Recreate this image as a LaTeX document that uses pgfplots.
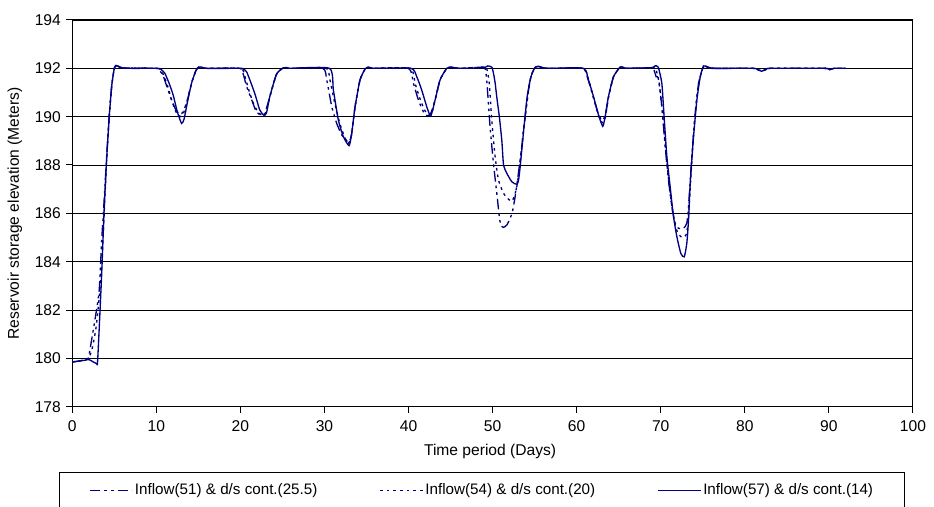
\documentclass[border=0pt]{standalone}
\usepackage{pgfplots}
\pgfplotsset{compat=1.18}
\usepackage{pgfplotstable}
\usepackage{fontspec}
\setmainfont{Liberation Sans}

\definecolor{navy}{RGB}{0,0,128}

% Inflow(51) & d/s cont.(25.5)
\pgfplotstableread{
day elev
0 179.85
1 179.9
1.5 179.95
1.9 180.0
2.1 180.35
2.7 181.6
3.2 182.8
3.5 184.9
3.7 186.0
4.1 188.4
4.4 190.1
4.7 191.3
5.0 192.0
5.2 192.1
5.5 192.08
6 192.02
10 192
10.3 191.95
10.8 191.7
11.3 191.2
11.8 190.7
12.3 190.3
12.8 190.1
13.2 190.2
13.7 190.7
14.2 191.4
14.7 191.9
15.0 192.03
15.5 192.03
16 192
19.9 192
20.3 191.8
20.75 191.24
21.35 190.69
21.9 190.2
22.5 190.06
22.9 190.12
23.5 190.83
24.3 191.76
25.1 192.02
25.6 192.02
26 192
29.8 192
30.27 191.52
30.87 190.41
31.46 189.72
32.06 189.24
32.65 189.0
32.95 188.95
33.24 189.3
33.64 190.41
34.23 191.52
34.83 191.97
35.2 192.04
36 192
40.0 192
40.58 191.38
41.17 190.69
41.77 190.2
42.17 190.05
42.6 190.1
43.16 190.69
43.75 191.52
44.55 192.0
45.14 192.04
46 192
48.8 192.05
49.1 192.0
49.3 191.52
49.7 189.58
50.1 188.07
50.5 186.83
50.8 185.86
50.97 185.52
51.28 185.42
51.7 185.52
52.08 185.79
52.36 186.07
52.68 186.69
53.07 187.66
53.47 188.76
53.87 190.0
54.46 191.52
54.97 192.0
55.4 192.08
56 192.02
57 192
60.7 192
61.3 191.6
61.9 190.9
62.5 190.2
63.0 189.85
63.4 190.05
63.8 190.83
64.38 191.65
65.17 192.05
65.6 192.03
66 192
68.8 192.02
69.13 192.0
69.46 191.65
69.73 191.6
70.13 190.41
70.53 188.76
70.92 187.38
71.32 186.28
71.72 185.59
72.11 185.38
72.71 185.38
73.1 185.59
73.3 186.28
73.7 188.34
74.1 190.14
74.5 191.38
75.0 192.0
75.3 192.1
75.8 192.03
76.5 192
81 192
81.5 191.95
82.0 191.9
82.5 191.95
83 192
89.5 192
90.1 191.95
90.6 192
92 192
}\seriesA

% Inflow(54) & d/s cont.(20)
\pgfplotstableread{
day elev
0 179.85
1 179.9
1.5 179.95
1.9 180.0
2.3 180.3
2.8 181.2
3.2 182.5
3.5 184.0
3.8 186.0
4.1 188.3
4.4 190.0
4.7 191.3
5.0 192.0
5.2 192.1
5.5 192.08
6 192.02
10 192
10.4 191.96
10.9 191.7
11.4 191.2
11.9 190.6
12.4 190.15
12.9 190.0
13.2 190.1
13.7 190.7
14.2 191.4
14.7 191.9
15.0 192.03
15.5 192.03
16 192
20 192
20.5 191.7
21.0 191.1
21.6 190.5
22.2 190.15
22.7 190.05
23.0 190.15
23.5 190.83
24.3 191.76
25.1 192.02
25.6 192.02
26 192
30.2 192
30.6 191.6
31.2 190.6
31.8 189.75
32.4 189.15
32.85 188.9
33.2 189.2
33.64 190.41
34.23 191.52
34.83 191.97
35.2 192.04
36 192
40.2 192
40.8 191.35
41.4 190.7
41.95 190.25
42.4 190.06
42.75 190.12
43.16 190.69
43.75 191.52
44.55 192.0
45.14 192.04
46 192
49.0 192.05
49.3 192.0
49.6 191.4
49.9 189.86
50.3 188.34
50.7 187.38
51.3 186.83
51.9 186.58
52.28 186.5
52.56 186.69
52.88 187.1
53.2 187.9
53.5 188.9
53.87 190.0
54.46 191.52
54.97 192.0
55.4 192.08
56 192.02
57 192
60.8 192
61.35 191.6
61.95 190.85
62.55 190.1
63.05 189.75
63.4 189.95
63.8 190.83
64.38 191.65
65.17 192.05
65.6 192.03
66 192
69.0 192.03
69.4 192.0
69.8 191.4
70.2 190.2
70.6 188.6
71.0 187.2
71.4 186.1
71.8 185.4
72.2 185.1
72.6 185.0
73.0 185.1
73.25 185.6
73.5 187.0
73.8 188.8
74.1 190.14
74.5 191.38
75.0 192.0
75.3 192.1
75.8 192.03
76.5 192
81 192
81.5 191.95
82.0 191.9
82.5 191.95
83 192
89.5 192
90.1 191.95
90.6 192
92 192
}\seriesB

% Inflow(57) & d/s cont.(14)
\pgfplotstableread{
day elev
0 179.85
0.5 179.87
1 179.9
1.5 179.92
2 179.95
2.5 179.85
2.9 179.78
3.0 179.8
3.2 181.2
3.5 183.5
3.8 186.2
4.1 188.3
4.4 190.0
4.7 191.3
5.0 192.0
5.2 192.12
5.5 192.08
6 192.02
7 192
10 192
10.5 191.97
11 191.8
11.5 191.4
12 190.9
12.5 190.2
13.0 189.72
13.3 189.9
13.7 190.6
14.2 191.4
14.7 191.9
15.0 192.05
15.4 192.05
16 192
20 192
20.3 191.97
20.75 191.85
21.7 190.97
22.3 190.28
22.8 190.06
23.1 190.15
23.5 190.83
24.3 191.76
25.1 192.02
25.5 192.03
26 192
30.6 192
31.06 191.1
31.65 189.86
32.25 189.17
32.93 188.8
33.24 189.31
33.64 190.41
34.23 191.52
34.83 191.97
35.2 192.05
36 192
40.3 192
40.98 191.65
41.57 191.1
42.17 190.41
42.64 190.03
43.16 190.69
43.75 191.52
44.55 192.0
45.14 192.05
46 192
49.0 192.03
49.4 192.1
49.9 192.05
50.1 191.8
50.3 191.4
50.5 190.8
50.8 190.0
51.1 189.0
51.3 188.0
51.7 187.65
52.3 187.3
52.9 187.2
53.1 187.4
53.3 188.0
53.7 189.45
54.1 190.8
54.4 191.4
54.7 191.8
55.1 192.05
55.5 192.08
56 192.02
57 192
60.8 192
61.4 191.52
62.0 190.83
62.6 190.07
63.1 189.6
63.39 190.0
63.78 190.83
64.38 191.65
65.17 192.05
65.6 192.03
66 192
69.0 192.03
69.3 192.1
69.7 192.05
70.13 191.38
70.4 190.0
70.73 188.34
71.12 187.1
71.52 185.86
71.92 185.03
72.39 184.34
72.8 184.2
73.1 184.76
73.3 185.7
73.5 187.2
73.9 189.17
74.3 190.69
74.7 191.65
75.08 192.1
75.5 192.05
76 192
81 192
81.5 191.95
82.0 191.88
82.5 191.95
83 192
89.5 192
90.1 191.94
90.6 192
92 192
}\seriesC

\begin{document}
\fontsize{11.7}{14}\selectfont
\begin{tikzpicture}
\begin{axis}[
    scale only axis,
    width=630.5pt, height=290pt,
    xmin=0, xmax=100, ymin=178, ymax=194,
    xtick distance=10, ytick distance=2,
    xtick pos=bottom, ytick pos=left,
    tick align=outside,
    major tick length=4.5pt,
    tick style={black, line width=0.75pt},
    axis line style={black, line width=0.75pt},
    ymajorgrids,
    grid style={black, line width=0.6pt},
    /pgf/number format/assume math mode=true,
    ticklabel style={font=\fontsize{11.7}{14}\selectfont},
    xticklabel style={yshift=-1.5pt},
    xlabel={Time period (Days)},
    ylabel={Reservoir storage elevation (Meters)},
    label style={font=\fontsize{11.7}{14}\selectfont},
    every axis x label/.style={at={(axis description cs:0.497,-0.117)}, anchor=center},
    every axis y label/.style={at={(axis description cs:-0.0682,0.5)}, rotate=90, anchor=center},
    legend columns=3,
    legend style={
        at={(axis description cs:-0.0155,-0.169)}, anchor=north west,
        draw=black, line width=0.6pt,
        inner xsep=22pt, inner ysep=7pt,
        font=\fontsize{11.4}{13.7}\selectfont,
        nodes={inner sep=1.5pt},
        /tikz/every even column/.append style={column sep=45pt},
    },
    legend image code/.code={\draw[#1] (0pt,0pt) -- (32pt,0pt);},
    every axis plot/.append style={navy, line width=1pt, smooth, tension=0.35},
]
\addplot[dash pattern=on 8pt off 3pt on 2pt off 3pt on 2pt off 3pt] table[x=day, y=elev] {\seriesA};
\addlegendentry{Inflow(51) \& d/s cont.(25.5)}
\addplot[dash pattern=on 2pt off 3pt] table[x=day, y=elev] {\seriesB};
\addlegendentry{Inflow(54) \& d/s cont.(20)}
\addplot[solid] table[x=day, y=elev] {\seriesC};
\addlegendentry{Inflow(57) \& d/s cont.(14)}
\end{axis}
\pgfresetboundingbox
\path (-54.2pt,-75.2pt) rectangle (646.3pt,305pt);
\end{tikzpicture}
\end{document}
